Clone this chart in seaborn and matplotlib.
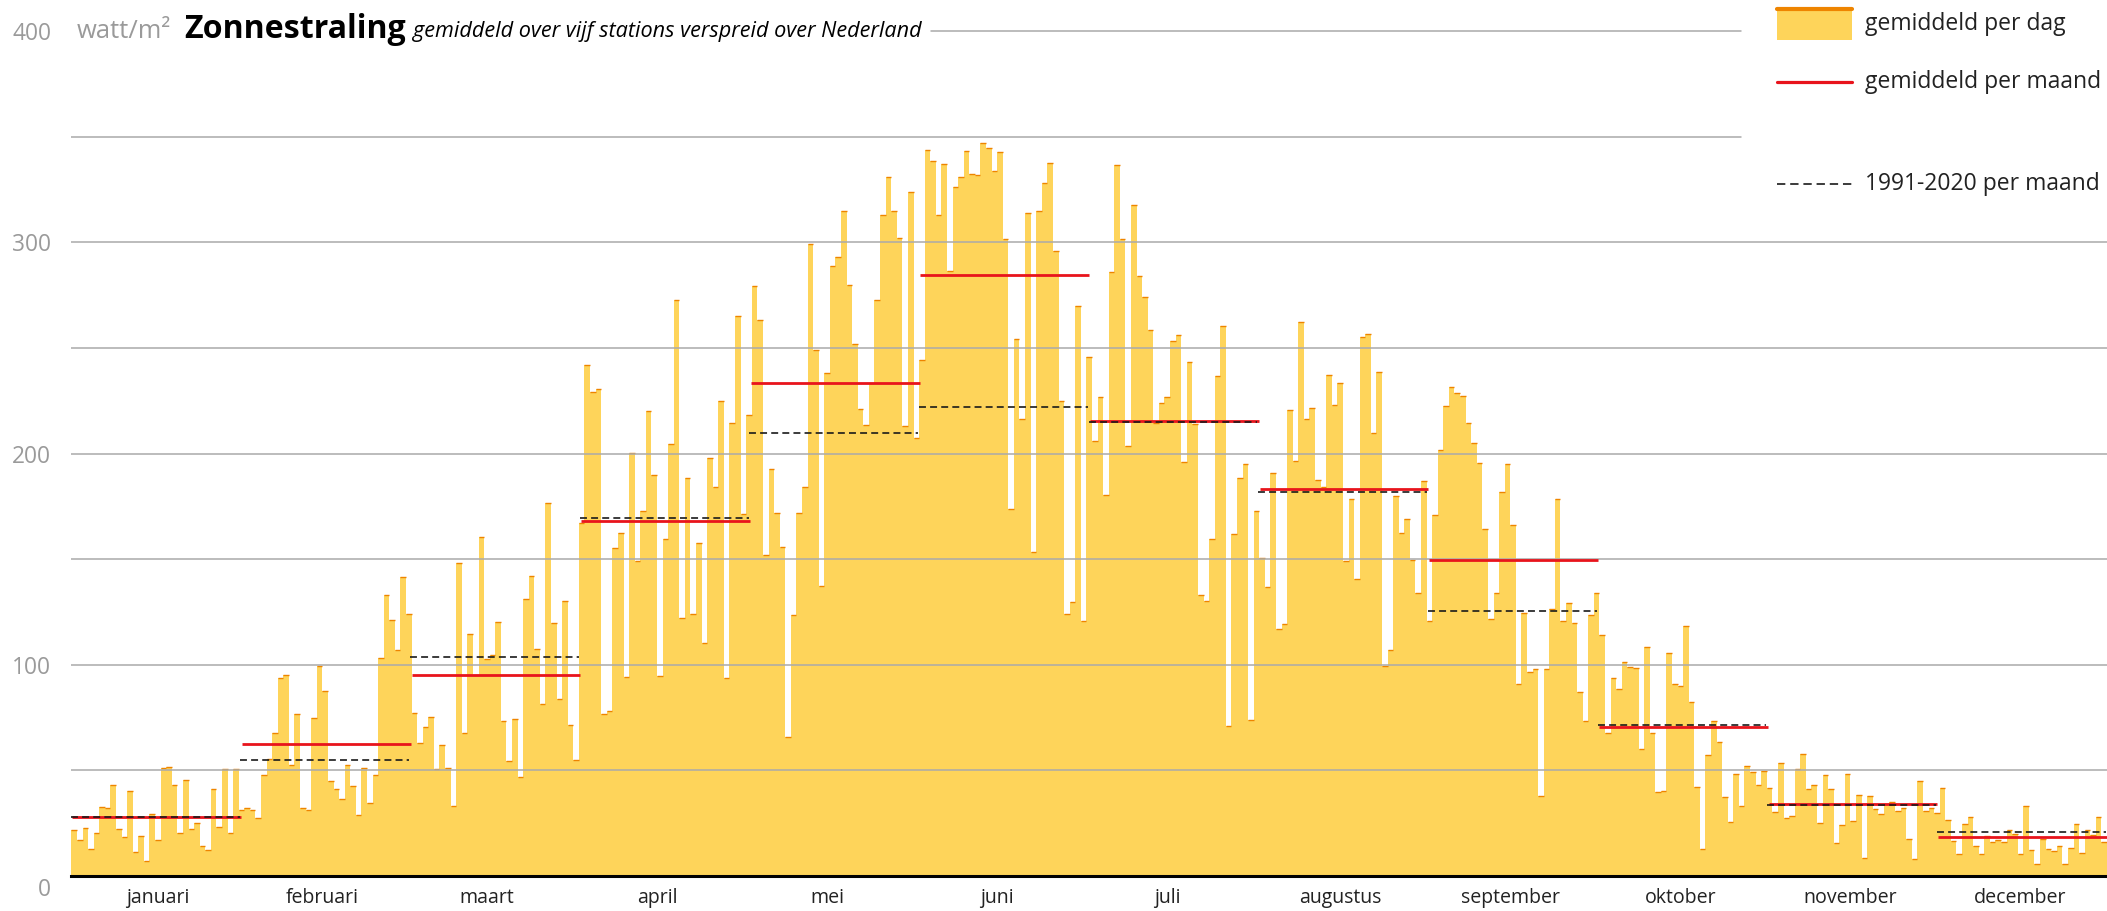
import numpy as np
import pandas as pd
import matplotlib
matplotlib.use("Agg")
import matplotlib.pyplot as plt
import seaborn as sns
from matplotlib.transforms import ScaledTranslation
from matplotlib.patches import Rectangle
from matplotlib.lines import Line2D

# ---------------- data (W/m2, daily mean of 5 stations) ----------------
jan = [21.9, 17.2, 22.9, 12.9, 20.5, 32.8, 32.4, 43.2, 22.4, 18.6, 40.4, 11.5, 19.1, 7.3, 29.2, 17.2,
       51.0, 51.8, 43.2, 20.5, 45.6, 22.4, 25.3, 14.4, 12.5, 41.4, 23.4, 50.5, 20.5, 50.5, 31.4]
feb = [32.4, 31.4, 27.6, 48.0, 55.2, 67.9, 93.9, 95.0, 52.7, 76.9, 32.4, 31.4, 75.0, 99.4, 87.8, 45.1,
       41.4, 36.6, 52.7, 42.8, 29.0, 51.0, 34.7, 48.0, 103.4, 133.0, 121.0, 107.2]
mar = [141.4, 123.9, 77.0, 63.0, 70.7, 75.4, 50.7, 62.2, 51.3, 33.0, 148.0, 67.9, 114.7, 95.0, 160.7, 102.7,
       104.8, 120.4, 73.5, 54.6, 74.5, 47.0, 131.3, 142.2, 107.6, 81.6, 176.8, 119.9, 84.0, 130.4, 71.7]
apr = [55.1, 167.3, 242.0, 229.2, 230.5, 76.5, 78.3, 155.5, 162.4, 94.3, 200.4, 149.1, 173.0, 220.4, 189.8,
       94.7, 159.5, 204.6, 272.8, 122.3, 188.3, 124.1, 157.7, 110.4, 197.8, 184.1, 224.8, 93.8, 214.4, 265.0]
may = [171.4, 218.4, 279.4, 263.2, 152.0, 192.6, 172.0, 155.8, 65.9, 123.6, 172.0, 184.0, 299.4, 249.2, 137.4,
       238.1, 288.9, 293.2, 314.7, 279.8, 252.1, 221.3, 213.5, 233.2, 272.7, 312.9, 330.9, 314.9, 302.0, 213.0, 324.0]
jun = [207.2, 244.1, 343.9, 338.6, 313.2, 337.0, 286.6, 326.1, 331.2, 343.4, 332.3, 332.1, 347.3, 344.6, 333.7,
       343.0, 301.8, 173.7, 254.3, 216.2, 314.1, 153.6, 315.0, 328.0, 337.6, 296.1, 224.9, 124.2, 129.6, 269.7]
jul = [120.8, 245.6, 205.8, 226.7, 180.4, 285.9, 336.5, 301.6, 203.6, 317.6, 284.3, 274.2, 258.4, 214.6, 223.8,
       226.9, 253.3, 256.0, 195.9, 243.4, 213.9, 132.9, 130.2, 159.5, 236.6, 260.2, 71.1, 161.9, 188.5, 195.0, 73.8]
aug = [172.8, 150.4, 136.7, 190.8, 117.0, 119.3, 220.7, 196.5, 262.4, 216.4, 221.6, 187.5, 184.0, 237.3, 223.0,
       233.6, 149.1, 178.4, 140.8, 255.3, 256.7, 209.9, 238.7, 99.3, 107.1, 180.0, 162.5, 169.1, 149.5, 133.9, 187.1]
sep = [120.9, 170.7, 201.8, 222.7, 231.7, 228.8, 227.5, 214.6, 205.1, 195.7, 164.5, 121.9, 134.2, 181.7, 195.2,
       166.4, 91.1, 124.7, 96.4, 97.9, 37.7, 97.9, 126.6, 178.3, 120.9, 129.4, 119.6, 87.3, 73.2, 123.8]
okt = [134.2, 113.9, 67.9, 93.9, 88.7, 101.5, 98.8, 98.3, 60.3, 108.6, 67.9, 39.9, 40.4, 105.7, 90.8, 90.0,
       118.5, 82.5, 42.3, 12.9, 57.4, 73.5, 63.6, 37.6, 25.7, 48.1, 33.3, 52.2, 49.2, 43.2, 49.6]
nov = [41.8, 30.4, 53.7, 27.6, 28.3, 50.8, 57.8, 41.4, 43.2, 24.9, 48.0, 41.4, 15.8, 24.3, 48.5, 26.2,
       38.5, 8.7, 38.0, 31.9, 29.5, 34.0, 34.9, 30.9, 32.4, 17.7, 8.0, 45.1, 30.9, 32.4]
dec = [29.7, 41.8, 26.7, 16.7, 10.6, 24.8, 28.1, 14.4, 10.6, 19.0, 16.3, 16.9, 16.3, 21.6, 19.9, 10.6,
       33.3, 12.5, 5.8, 17.5, 12.9, 12.0, 14.4, 5.8, 13.4, 24.8, 11.0, 21.6, 19.5, 28.1, 16.3]

month_names = ["januari", "februari", "maart", "april", "mei", "juni", "juli",
               "augustus", "september", "oktober", "november", "december"]
month_days = [31, 28, 31, 30, 31, 30, 31, 31, 30, 31, 30, 31]
monthly_mean = [28.1, 62.5, 95.3, 168.1, 233.5, 284.5, 215.5, 183.4, 149.7, 70.7, 33.9, 18.5]
normal_1991_2020 = [28.0, 54.8, 103.9, 169.5, 209.9, 222.2, 214.8, 181.8, 125.7, 71.3, 33.8, 21.0]
y_ticks = [0, 100, 200, 300, 400]
grid_levels = [50, 100, 150, 200, 250, 300, 350, 400]

# ---------------- styling ----------------
YELLOW = "#FED45A"
ORANGE = "#EE8400"
RED = "#E8141C"
DARK = "#1A1A1A"
GRID = "#AAAAAA"
LGRAY = "#9A9A9A"

sns.set_style("white")
plt.rcParams["font.family"] = ["Open Sans", "DejaVu Sans"]
plt.rcParams["lines.scale_dashes"] = False

W, H = 2107, 911
fig = plt.figure(figsize=(W / 100, H / 100), dpi=100)
AX_L, AX_R, Y0, Y400 = 71.4, 2107.0, 876.0, 31.2
ax = fig.add_axes([AX_L / W, (H - Y0) / H, (AX_R - AX_L) / W, (Y0 - Y400) / H])

daily = jan + feb + mar + apr + may + jun + jul + aug + sep + okt + nov + dec
df = pd.DataFrame({"dag": np.arange(len(daily)) + 0.5, "straling": daily})

sns.barplot(data=df, x="dag", y="straling", native_scale=True, width=1.0, color=YELLOW,
            saturation=1, linewidth=0, errorbar=None, ax=ax, zorder=1)
ax.hlines(df["straling"], df["dag"] - 0.5, df["dag"] + 0.5, colors=ORANGE, lw=1.0, zorder=2)

ax.set_xlim(0, 365)
ax.set_ylim(0, 400)

def px2ax(px):
    return (px - AX_L) / (AX_R - AX_L)

LINE_END = px2ax(1741.5)
for v in grid_levels:
    if v <= 300:
        ax.axhline(v, color=GRID, lw=1.1, zorder=3)
    elif v == 350:
        ax.axhline(v, xmin=0, xmax=LINE_END, color=GRID, lw=1.1, zorder=3)

# monthly means (drawn over twelve equal parts of the year)
edges = np.arange(13) * 365 / 12
for i in range(12):
    ax.hlines(monthly_mean[i], edges[i] + 0.15, edges[i + 1], colors=RED, lw=2.0, zorder=4)
    ax.hlines(normal_1991_2020[i], edges[i] - 0.1, edges[i + 1] - 0.25, colors=DARK, lw=1.2,
              linestyles=[(0, (5, 3))], zorder=5)

# axes / ticks
starts = np.cumsum([0] + month_days)
centers = starts[:-1] + np.array(month_days) / 2
for s in ["top", "right", "left"]:
    ax.spines[s].set_visible(False)
ax.spines["bottom"].set_color("black")
ax.spines["bottom"].set_linewidth(2.2)
ax.spines["bottom"].set_zorder(6)
ax.set_xlabel("")
ax.set_ylabel("")

renderer = fig.canvas.get_renderer()

def fit_size(text, target_px, **kw):
    t = fig.text(0, 0, text, fontsize=20, **kw)
    w = t.get_window_extent(renderer).width
    t.remove()
    return 20 * target_px / w

month_fs = fit_size("september", 99)
ytick_fs = fit_size("300", 39)

ax.set_xticks(centers)
ax.set_xticklabels(month_names)
ax.set_xticks(starts, minor=True)
ax.tick_params(axis="x", which="major", length=0, pad=8.5, labelsize=month_fs, labelcolor="#222222")
ax.tick_params(axis="x", which="minor", length=4.5, width=1.2, color="#555555", direction="out")
ax.set_yticks(y_ticks)
ax.set_yticklabels([str(v) for v in y_ticks])
ax.tick_params(axis="y", length=0, pad=14.5, labelsize=ytick_fs, labelcolor=LGRAY)
zero_tick = ax.yaxis.get_major_ticks()[0]
zero_tick.label1.set_transform(zero_tick.label1.get_transform() +
                               ScaledTranslation(0, -11 / 100, fig.dpi_scale_trans))

# ---------------- header ----------------
BASE = 1 - 37.5 / H
t_unit = fig.text(76.6 / W, BASE, "watt/m²", color=LGRAY, va="baseline", ha="left",
                  fontsize=fit_size("watt/m²", 94))
fig.canvas.draw()
x_after = t_unit.get_window_extent(renderer).x1 + 13
t_title = fig.text(x_after / W, BASE, "Zonnestraling", color="black", fontweight="bold",
                   va="baseline", ha="left",
                   fontsize=fit_size("Zonnestraling", 222, fontweight="bold"))
x_after = t_title.get_window_extent(renderer).x1 + 7
t_sub = fig.text(x_after / W, BASE, "gemiddeld over vijf stations verspreid over Nederland",
                 color="black", fontstyle="italic", va="baseline", ha="left",
                 fontsize=fit_size("gemiddeld over vijf stations verspreid over Nederland", 508,
                                   fontstyle="italic"))
line_start = t_sub.get_window_extent(renderer).x1 + 10
ax.axhline(400, xmin=px2ax(line_start), xmax=LINE_END, color=GRID, lw=1.1, zorder=3, clip_on=False)

# ---------------- legend ----------------
LX0, LX1, LTX = 1776.5, 1851.7, 1865
leg_fs = fit_size("gemiddeld per maand", 235)
fig.add_artist(Rectangle((LX0 / W, 1 - 40.3 / H), (LX1 - LX0) / W, (40.3 - 6.7) / H,
                         facecolor=YELLOW, edgecolor="none", transform=fig.transFigure))
fig.add_artist(Line2D([LX0 / W, LX1 / W], [1 - 8.7 / H, 1 - 8.7 / H], color=ORANGE, lw=3.0,
                      transform=fig.transFigure))
fig.add_artist(Line2D([LX0 / W, LX1 / W], [1 - 82 / H, 1 - 82 / H], color=RED, lw=2.3,
                      transform=fig.transFigure))
fig.add_artist(Line2D([LX0 / W, LX1 / W], [1 - 184 / H, 1 - 184 / H], color=DARK, lw=1.2,
                      linestyle=(0, (6, 3.5)), transform=fig.transFigure))
for yy, txt in [(24, "gemiddeld per dag"), (82, "gemiddeld per maand"), (184, "1991-2020 per maand")]:
    fig.text(LTX / W, 1 - yy / H, txt, color="#222222", va="center", ha="left", fontsize=leg_fs)

fig.savefig("out.png", dpi=100)
